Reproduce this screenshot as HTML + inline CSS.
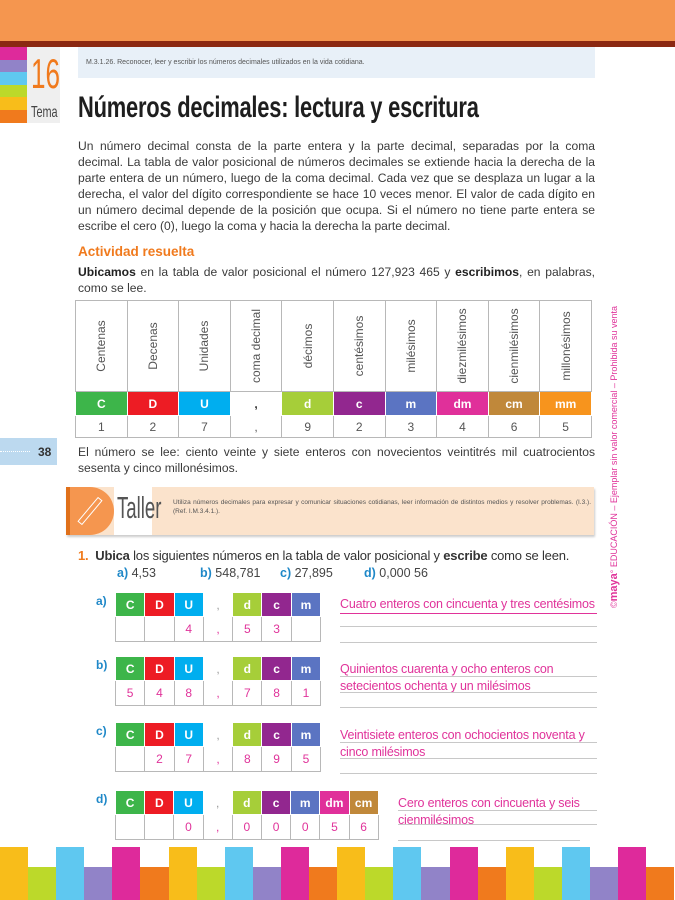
<!DOCTYPE html>
<html><head><meta charset="utf-8"><style>
*{margin:0;padding:0;box-sizing:border-box}
body{width:675px;height:900px;position:relative;background:#fff;font-family:"Liberation Sans",sans-serif;color:#3a3a3a;overflow:hidden}
.a{position:absolute}
.p{font-size:12.1px;line-height:16px;text-align:justify;color:#3a3a3a;letter-spacing:0}
table{border-collapse:collapse;position:absolute;table-layout:fixed}
td{text-align:center;border:1px solid #b8b8b8;padding:0;font-size:12px;overflow:hidden}
.h td{color:#fff;font-weight:bold;border-color:#fff}
.n td{color:#e0339a}
.ans{position:absolute;color:#e0339a;font-size:12.5px;letter-spacing:-0.2px;white-space:nowrap}
.ln{position:absolute;height:1px;background:#c8c8c8}
.rot{transform:rotate(-90deg);white-space:nowrap;color:#555;width:20px;margin:0 auto;display:flex;justify-content:center}
</style></head><body>
<div class="a" style="left:0;top:0;width:675px;height:41px;background:#f5964f"></div>
<div class="a" style="left:0;top:41px;width:675px;height:6px;background:#8b2812"></div>
<div class="a" style="left:0;top:47px;width:27px;height:13px;background:#de2a9b"></div>
<div class="a" style="left:0;top:60px;width:27px;height:12px;background:#9183c8"></div>
<div class="a" style="left:0;top:72px;width:27px;height:13px;background:#5fc8f0"></div>
<div class="a" style="left:0;top:85px;width:27px;height:12px;background:#bcd92a"></div>
<div class="a" style="left:0;top:97px;width:27px;height:13px;background:#f8bd1a"></div>
<div class="a" style="left:0;top:110px;width:27px;height:13px;background:#f07a1d"></div>
<div class="a" style="left:27px;top:47px;width:33px;height:76px;background:#efefef"></div>
<div class="a" style="left:31px;top:52px;font-size:42px;color:#f07a1d;line-height:44px;transform:scaleX(.62);transform-origin:left">16</div>
<div class="a" style="left:31px;top:104px;font-size:16px;color:#444;transform:scaleX(.68);transform-origin:left">Tema</div>
<div class="a" style="left:78px;top:47px;width:517px;height:31px;background:#e8f0f8;font-size:7px;padding:12px 0 0 8px;color:#555">M.3.1.26. Reconocer, leer y escribir los números decimales utilizados en la vida cotidiana.</div>
<div class="a" style="left:78px;top:91px;font-size:30px;color:#1e1e1e;white-space:nowrap;transform:scaleX(.73);transform-origin:left;font-weight:bold;letter-spacing:-0.3px">Números decimales: lectura y escritura</div>
<div class="a p" style="left:78px;top:138px;width:517px">Un número decimal consta de la parte entera y la parte decimal, separadas por la coma decimal. La tabla de valor posicional de números decimales se extiende hacia la derecha de la parte entera de un número, luego de la coma decimal. Cada vez que se desplaza un lugar a la derecha, el valor del dígito correspondiente se hace 10 veces menor. El valor de cada dígito en un número decimal depende de la posición que ocupa. Si el número no tiene parte entera se escribe el cero (0), luego la coma y hacia la derecha la parte decimal.</div>
<div class="a" style="left:78px;top:244px;font-size:13.5px;font-weight:bold;color:#f07a1d">Actividad resuelta</div>
<div class="a p" style="left:78px;top:264px;width:517px"><b style="color:#222">Ubicamos</b> en la tabla de valor posicional el número 127,923 465 y <b style="color:#222">escribimos</b>, en palabras, como se lee.</div>
<table style="left:75px;top:300px;width:516px">
<colgroup><col span="10" style="width:51.6px"></colgroup>
<tr style="height:91px;font-size:12px">
<td><div class="rot">Centenas</div></td>
<td><div class="rot">Decenas</div></td>
<td><div class="rot">Unidades</div></td>
<td><div class="rot">coma decimal</div></td>
<td><div class="rot">décimos</div></td>
<td><div class="rot">centésimos</div></td>
<td><div class="rot">milésimos</div></td>
<td><div class="rot">diezmilésimos</div></td>
<td><div class="rot">cienmilésimos</div></td>
<td><div class="rot">millonésimos</div></td></tr>
<tr class="h" style="height:24px"><td style="background:#3db54a">C</td><td style="background:#ed1c24">D</td><td style="background:#00aeef">U</td><td style="background:#fff;color:#333">,</td><td style="background:#a6ce39">d</td><td style="background:#92278f">c</td><td style="background:#5b74c2">m</td><td style="background:#e0309a">dm</td><td style="background:#c0883a">cm</td><td style="background:#f7941d">mm</td></tr>
<tr style="height:22px;color:#555"><td>1</td><td>2</td><td>7</td><td>,</td><td>9</td><td>2</td><td>3</td><td>4</td><td>6</td><td>5</td></tr>
</table>
<div class="a" style="left:0;top:438px;width:57px;height:27px;background:#bcd9ef"></div>
<div class="a" style="left:0;top:451px;width:30px;border-top:1px dotted #fff"></div>
<div class="a" style="left:38px;top:445px;font-size:12px;font-weight:bold;color:#333">38</div>
<div class="a p" style="left:78px;top:444px;width:517px">El número se lee: ciento veinte y siete enteros con novecientos veintitrés mil cuatrocientos sesenta y cinco millonésimos.</div>
<div class="a" style="left:66px;top:487px;width:528px;height:48px;background:#fbe3cc;box-shadow:1px 2px 2px #ccc"></div>
<div class="a" style="left:66px;top:487px;width:4px;height:48px;background:#e0701a"></div>
<div class="a" style="left:70px;top:487px;width:44px;height:48px;background:#f5964f;border-radius:0 24px 24px 0"></div>
<div class="a" style="left:114px;top:487px;width:38px;height:48px;background:#fff"></div>
<div class="a" style="left:74px;top:508px;width:32px;height:6px;border:1.5px solid #fff;transform:rotate(-50deg)"></div>
<div class="a" style="left:117px;top:490px;font-size:31px;color:#555;transform:scaleX(.6);transform-origin:left">Taller</div>
<div class="a" style="left:173px;top:498px;width:418px;font-size:6.5px;line-height:9px;color:#555;text-align:justify">Utiliza números decimales para expresar y comunicar situaciones cotidianas, leer información de distintos medios y resolver problemas. (I.3.). (Ref. I.M.3.4.1.).</div>
<div class="a" style="left:78px;top:548px;font-size:13px;color:#333;letter-spacing:-0.2px"><b style="color:#f07a1d">1.</b>&nbsp;&nbsp;<b>Ubica</b> los siguientes números en la tabla de valor posicional y <b>escribe</b> como se leen.</div>
<div class="a" style="left:117px;top:566px;font-size:12.5px;color:#444;white-space:nowrap"><b style="color:#1f88c8">a)</b> 4,53</div>
<div class="a" style="left:200px;top:566px;font-size:12.5px;color:#444;white-space:nowrap"><b style="color:#1f88c8">b)</b> 548,781</div>
<div class="a" style="left:280px;top:566px;font-size:12.5px;color:#444;white-space:nowrap"><b style="color:#1f88c8">c)</b> 27,895</div>
<div class="a" style="left:364px;top:566px;font-size:12.5px;color:#444;white-space:nowrap"><b style="color:#1f88c8">d)</b> 0,000 56</div>

<div class="a" style="left:96px;top:594px;font-size:12px;font-weight:bold;color:#1f88c8">a)</div>
<table style="left:115px;top:592px;width:205px">
<colgroup><col span="7" style="width:29.3px"></colgroup>
<tr class="h" style="height:24px"><td style="background:#3db54a">C</td><td style="background:#ed1c24">D</td><td style="background:#00aeef">U</td><td style="background:#fff;color:#999;font-weight:normal">,</td><td style="background:#a6ce39">d</td><td style="background:#92278f">c</td><td style="background:#5b74c2">m</td></tr>
<tr class="n" style="height:25px"><td></td><td></td><td>4</td><td>,</td><td>5</td><td>3</td><td></td></tr></table>
<div class="ans" style="left:340px;top:597px">Cuatro enteros con cincuenta y tres centésimos</div>
<div class="ln" style="left:340px;top:613px;width:257px;background:#e0339a"></div>
<div class="ln" style="left:340px;top:626px;width:257px"></div>
<div class="ln" style="left:340px;top:642px;width:257px"></div>

<div class="a" style="left:96px;top:658px;font-size:12px;font-weight:bold;color:#1f88c8">b)</div>
<table style="left:115px;top:656px;width:205px">
<colgroup><col span="7" style="width:29.3px"></colgroup>
<tr class="h" style="height:24px"><td style="background:#3db54a">C</td><td style="background:#ed1c24">D</td><td style="background:#00aeef">U</td><td style="background:#fff;color:#999;font-weight:normal">,</td><td style="background:#a6ce39">d</td><td style="background:#92278f">c</td><td style="background:#5b74c2">m</td></tr>
<tr class="n" style="height:25px"><td>5</td><td>4</td><td>8</td><td>,</td><td>7</td><td>8</td><td>1</td></tr></table>
<div class="ans" style="left:340px;top:661px;line-height:17px">Quinientos cuarenta y ocho enteros con<br>setecientos ochenta y un milésimos</div>
<div class="ln" style="left:340px;top:676px;width:257px"></div>
<div class="ln" style="left:340px;top:692px;width:257px"></div>
<div class="ln" style="left:340px;top:707px;width:257px"></div>

<div class="a" style="left:96px;top:724px;font-size:12px;font-weight:bold;color:#1f88c8">c)</div>
<table style="left:115px;top:722px;width:205px">
<colgroup><col span="7" style="width:29.3px"></colgroup>
<tr class="h" style="height:24px"><td style="background:#3db54a">C</td><td style="background:#ed1c24">D</td><td style="background:#00aeef">U</td><td style="background:#fff;color:#999;font-weight:normal">,</td><td style="background:#a6ce39">d</td><td style="background:#92278f">c</td><td style="background:#5b74c2">m</td></tr>
<tr class="n" style="height:25px"><td></td><td>2</td><td>7</td><td>,</td><td>8</td><td>9</td><td>5</td></tr></table>
<div class="ans" style="left:340px;top:727px;line-height:17px">Veintisiete enteros con ochocientos noventa y<br>cinco milésimos</div>
<div class="ln" style="left:340px;top:742px;width:257px"></div>
<div class="ln" style="left:340px;top:758px;width:257px"></div>
<div class="ln" style="left:340px;top:773px;width:257px"></div>

<div class="a" style="left:96px;top:792px;font-size:12px;font-weight:bold;color:#1f88c8">d)</div>
<table style="left:115px;top:790px;width:263px">
<colgroup><col span="9" style="width:29.2px"></colgroup>
<tr class="h" style="height:24px"><td style="background:#3db54a">C</td><td style="background:#ed1c24">D</td><td style="background:#00aeef">U</td><td style="background:#fff;color:#999;font-weight:normal">,</td><td style="background:#a6ce39">d</td><td style="background:#92278f">c</td><td style="background:#5b74c2">m</td><td style="background:#e0309a">dm</td><td style="background:#c0883a">cm</td></tr>
<tr class="n" style="height:25px"><td></td><td></td><td>0</td><td>,</td><td>0</td><td>0</td><td>0</td><td>5</td><td>6</td></tr></table>
<div class="ans" style="left:398px;top:795px;line-height:17px">Cero enteros con cincuenta y seis<br>cienmilésimos</div>
<div class="ln" style="left:398px;top:810px;width:199px"></div>
<div class="ln" style="left:398px;top:824px;width:199px"></div>
<div class="ln" style="left:398px;top:840px;width:182px"></div>

<div class="a" style="left:614px;top:458px;width:0;height:0"><div style="position:absolute;left:-165px;top:-7px;width:330px;font-size:9px;color:#e0339a;white-space:nowrap;transform:rotate(-90deg);text-align:center">©<b style="font-size:11px">maya</b>° EDUCACIÓN – Ejemplar sin valor comercial – Prohibida su venta</div></div>

<div class="a" style="left:0;top:847px;width:675px;height:53px;display:flex">
<div style="flex:0 0 28.1px;background:#f8bd1a"></div><div style="flex:0 0 28.1px;margin-top:20px;background:#bcd92a"></div>
<div style="flex:0 0 28.1px;background:#5fc8f0"></div><div style="flex:0 0 28.1px;margin-top:20px;background:#9183c8"></div>
<div style="flex:0 0 28.1px;background:#de2a9b"></div><div style="flex:0 0 28.1px;margin-top:20px;background:#f07a1d"></div>
<div style="flex:0 0 28.1px;background:#f8bd1a"></div><div style="flex:0 0 28.1px;margin-top:20px;background:#bcd92a"></div>
<div style="flex:0 0 28.1px;background:#5fc8f0"></div><div style="flex:0 0 28.1px;margin-top:20px;background:#9183c8"></div>
<div style="flex:0 0 28.1px;background:#de2a9b"></div><div style="flex:0 0 28.1px;margin-top:20px;background:#f07a1d"></div>
<div style="flex:0 0 28.1px;background:#f8bd1a"></div><div style="flex:0 0 28.1px;margin-top:20px;background:#bcd92a"></div>
<div style="flex:0 0 28.1px;background:#5fc8f0"></div><div style="flex:0 0 28.1px;margin-top:20px;background:#9183c8"></div>
<div style="flex:0 0 28.1px;background:#de2a9b"></div><div style="flex:0 0 28.1px;margin-top:20px;background:#f07a1d"></div>
<div style="flex:0 0 28.1px;background:#f8bd1a"></div><div style="flex:0 0 28.1px;margin-top:20px;background:#bcd92a"></div>
<div style="flex:0 0 28.1px;background:#5fc8f0"></div><div style="flex:0 0 28.1px;margin-top:20px;background:#9183c8"></div>
<div style="flex:0 0 28.1px;background:#de2a9b"></div><div style="flex:0 0 28.1px;margin-top:20px;background:#f07a1d"></div>
</div>
</body></html>
